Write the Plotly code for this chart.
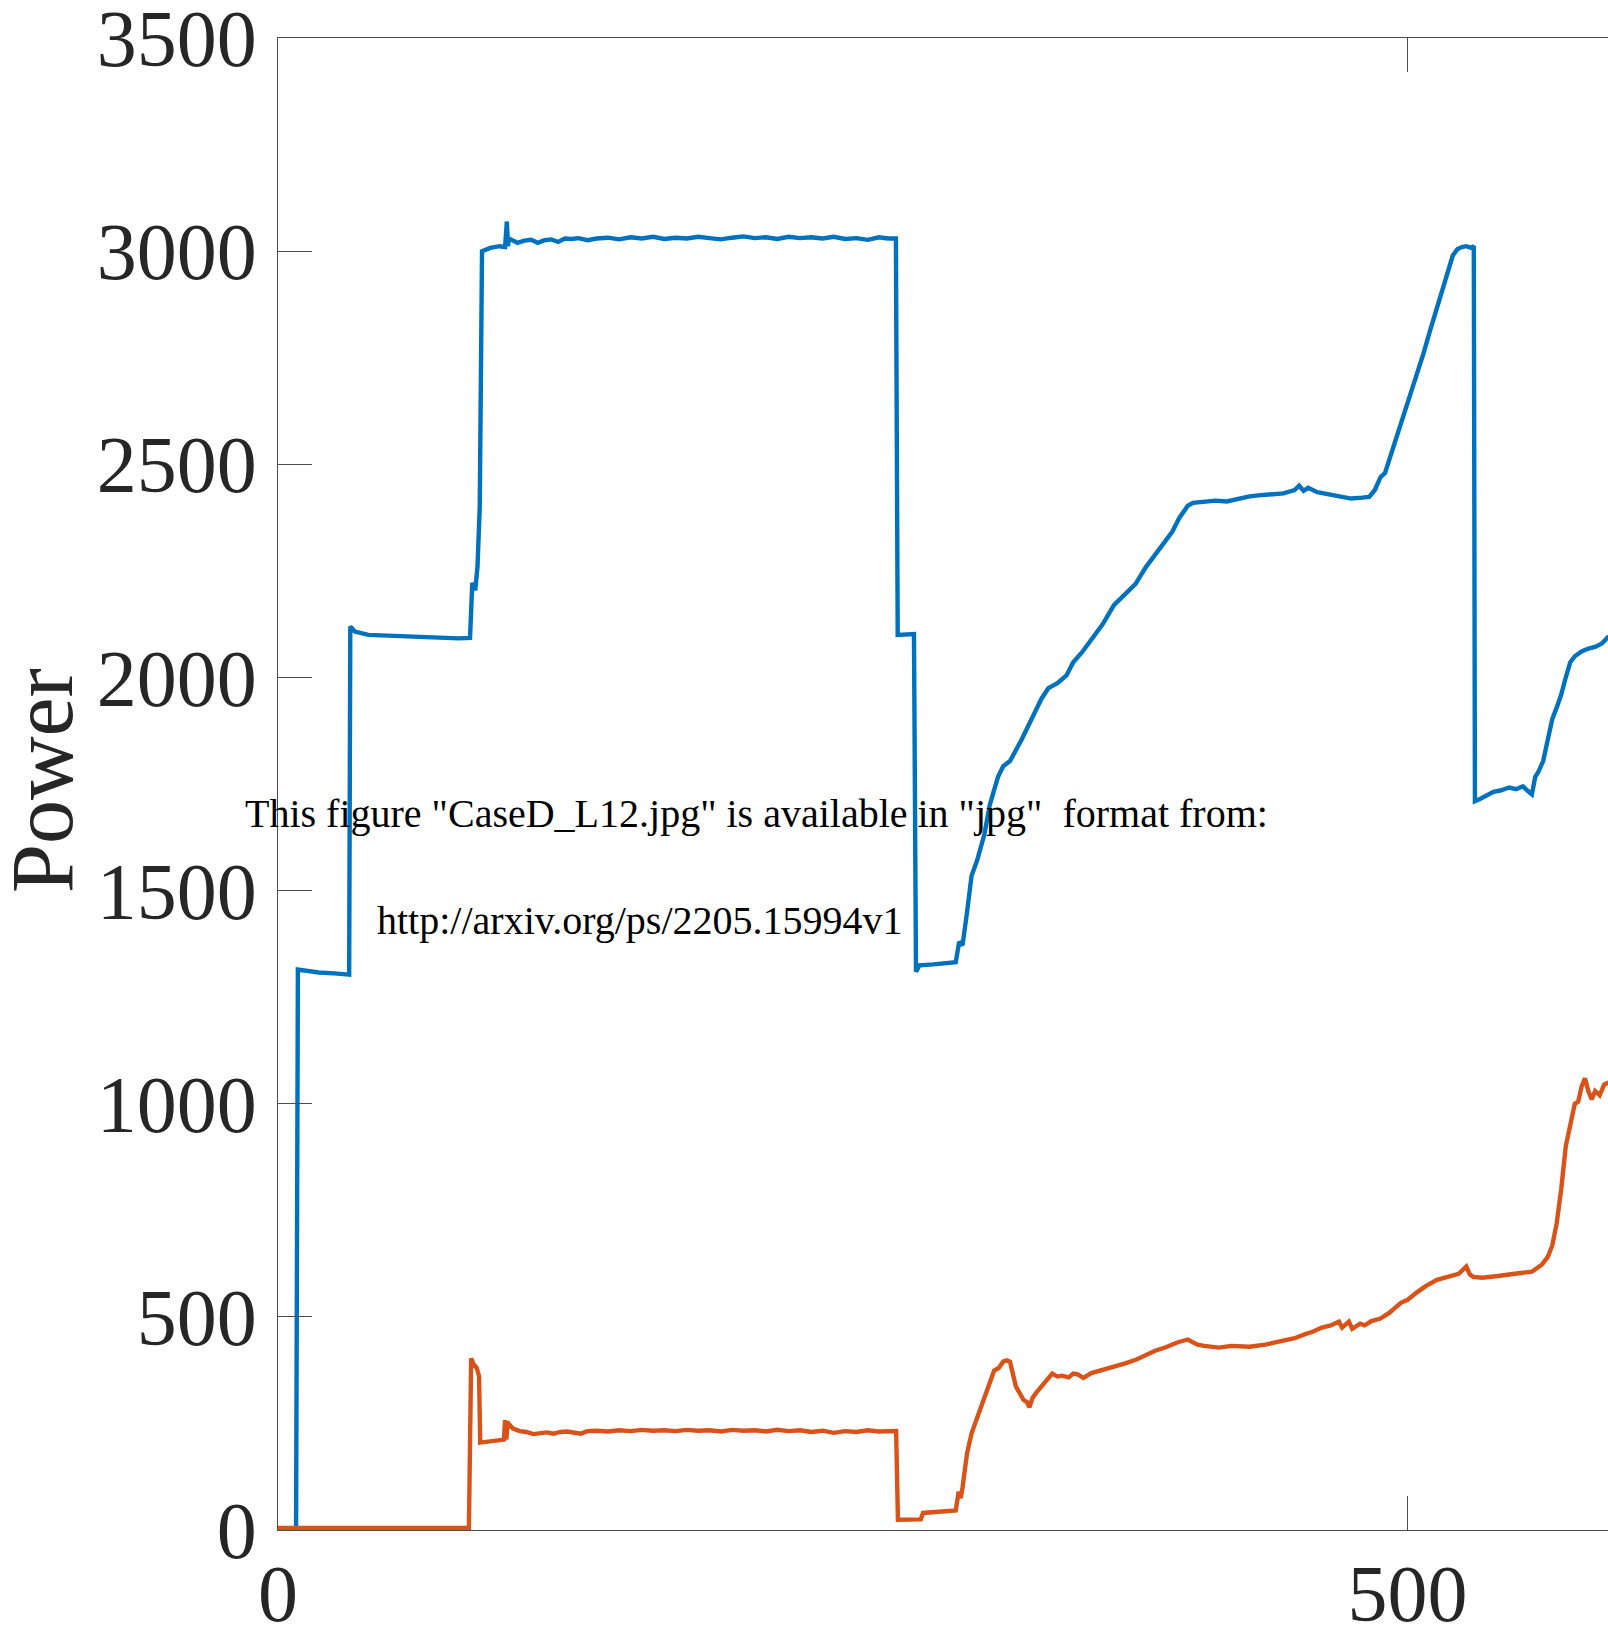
import plotly.graph_objects as go

# ---------------- data ----------------
blue_x = [0, 8, 8.8, 12, 18, 25, 31.5, 32, 34, 40,
          50, 60, 70, 80, 85, 86, 87.3, 88.3, 89.3, 90.3,
          94, 98, 100.5, 101.3, 101.8, 102.3, 103, 106, 109, 112,
          115, 118, 121, 124, 127, 130, 133, 137, 141, 146,
          151, 156, 161, 166, 171, 176, 181, 186, 191, 196,
          201, 206, 211, 216, 221, 226, 231, 236, 241, 246,
          251, 256, 261, 266, 270, 273.5, 274.3, 278, 281.5, 282.4,
          284, 290, 295, 300, 301.5, 303, 305, 307, 309.5, 312.7,
          315, 318.7, 321, 324, 329, 333.5, 338, 341, 345, 349,
          352, 356, 361, 365, 370, 375, 379.6, 384, 389, 392,
          395.8, 399, 402.7, 405, 410, 415, 420, 425, 430, 435,
          440, 445, 450, 452, 454, 456, 460, 465, 470, 475,
          480, 483, 485.5, 488, 490, 492.5, 495, 498, 501, 504,
          507, 510, 513, 516, 518, 520, 522, 524, 526, 528,
          529.3, 529.8, 532, 535, 538, 541, 545, 548, 551, 553,
          555, 556.5, 558, 560, 562, 564, 566, 568, 570, 572,
          574, 577, 580, 583, 586, 589]
blue_y = [0, 0, 1315, 1312, 1308, 1306, 1303, 2120, 2108, 2100,
          2098, 2095, 2094, 2092, 2093, 2222, 2205, 2260, 2400, 3000,
          3008, 3012, 3010, 3070, 3012, 3030, 3028, 3020, 3025, 3027,
          3020, 3026, 3028, 3022, 3030, 3029, 3031, 3026, 3030, 3032,
          3028, 3033, 3030, 3034, 3029, 3032, 3030, 3034, 3031, 3028,
          3032, 3035, 3031, 3033, 3029, 3034, 3031, 3033, 3030, 3034,
          3029, 3031, 3027, 3033, 3030, 3030, 2100, 2100, 2102, 1310,
          1325, 1327, 1330, 1332, 1380, 1372, 1450, 1535, 1572, 1633,
          1700, 1767, 1792, 1804, 1853, 1902, 1951, 1975, 1987, 2005,
          2036, 2060, 2097, 2125, 2170, 2195, 2220, 2258, 2293, 2318,
          2342, 2375, 2403, 2410, 2412, 2415, 2413, 2420, 2425, 2428,
          2430, 2432, 2440, 2450, 2438, 2445, 2435, 2430, 2425, 2420,
          2422, 2424, 2440, 2470, 2480, 2520, 2560, 2610, 2660, 2710,
          2760, 2815, 2870, 2920, 2960, 2990, 3005, 3010, 3012, 3008,
          3012, 1710, 1715, 1725, 1732, 1735, 1742, 1738, 1745, 1735,
          1726, 1767, 1780, 1804, 1850, 1902, 1930, 1960, 2000, 2036,
          2050, 2061, 2068, 2072, 2080, 2097]

orange_x = [0, 10, 30, 60, 84.5, 85.5, 86.5, 88, 89, 89.5,
            92, 96, 100, 100.5, 101.1, 101.6, 102.2, 102.8, 104, 107,
            110, 113, 116, 119, 122, 125, 128, 131, 134, 137,
            141, 146, 151, 156, 161, 166, 171, 176, 181, 186,
            191, 196, 201, 206, 211, 216, 221, 226, 231, 236,
            241, 246, 251, 256, 261, 266, 270, 273.6, 274.4, 280,
            284.5, 285.5, 290, 295, 300, 301.3, 302.2, 303, 305, 307,
            309.5, 312.7, 315, 317, 319, 321, 322.5, 324, 326.6, 330,
            331.5, 332.6, 334, 336, 340, 342.7, 345, 347, 350, 352,
            354, 356.5, 360, 365.8, 370, 375, 380, 384, 388, 393.5,
            398, 402.7, 405, 407, 410, 416.5, 422, 430, 437, 444,
            450, 455, 458, 462, 466, 469.6, 471, 472.5, 474, 475.5,
            477, 479, 481, 484, 488, 492, 497, 500, 504, 508,
            513, 518, 522.6, 526, 527.5, 529, 533, 540, 545.7, 550,
            555, 559.5, 562, 564, 566, 568, 570, 572, 574, 575.5,
            577, 578.5, 580, 581.5, 583, 585, 587, 589]
orange_y = [5, 5, 5, 5, 5, 403, 390, 380, 360, 205,
            207, 210, 212, 258, 212, 255, 240, 245, 238, 232,
            230, 225, 228, 229, 226, 230, 231, 228, 226, 232,
            233, 231, 234, 232, 235, 233, 234, 232, 235, 233,
            234, 231, 235, 233, 234, 231, 235, 232, 234, 230,
            233, 228, 232, 230, 234, 231, 232, 232, 24, 24,
            25, 40, 42, 44, 46, 90, 75, 100, 180, 227,
            264, 313, 345, 374, 380, 395, 398, 395, 337, 305,
            300, 288, 310, 325, 350, 367, 360, 362, 358, 367,
            365, 357, 368, 376, 383, 391, 400, 411, 420, 430,
            440, 447, 440, 435, 432, 428, 432, 430, 435, 442,
            450, 460, 465, 475, 480, 489, 475, 482, 489, 472,
            478, 484, 480, 490, 496, 510, 533, 540, 557, 572,
            587, 595, 601, 618, 600, 594, 592, 596, 601, 603,
            606, 623, 640, 667, 720, 800, 900, 950, 1000, 1005,
            1040, 1060, 1030, 1010, 1030, 1020, 1045, 1050]

y_ticks = [0, 500, 1000, 1500, 2000, 2500, 3000, 3500]
x_ticks = [0, 500, 1000]
y_title = "Power"
note_line1 = 'This figure "CaseD_L12.jpg" is available in "jpg"&nbsp;&nbsp;format from:'
note_line2 = "http://arxiv.org/ps/2205.15994v1"

assert len(blue_x) == len(blue_y)
assert len(orange_x) == len(orange_y)

# ---------------- figure ----------------
SERIF = "Liberation Serif, Times New Roman, serif"
AX = "#4d4d4d"

fig = go.Figure()
fig.add_trace(go.Scatter(x=blue_x, y=blue_y, mode="lines",
                         line=dict(color="#0072BD", width=4.4), showlegend=False))
fig.add_trace(go.Scatter(x=orange_x, y=orange_y, mode="lines",
                         line=dict(color="#D95319", width=4.4), showlegend=False))

fig.update_layout(
    width=1608, height=1634,
    margin=dict(l=278, r=0, t=38, b=104, pad=0, autoexpand=False),
    paper_bgcolor="white", plot_bgcolor="white",
    font=dict(family=SERIF, color="#262626"),
)
fig.update_xaxes(
    range=[0, 588.7], tickmode="array", tickvals=x_ticks,
    ticktext=[str(v) for v in x_ticks],
    ticks="inside", ticklen=34, tickwidth=1.3, tickcolor=AX,
    showline=True, linecolor=AX, linewidth=1.3, mirror="ticks",
    showgrid=False, zeroline=False, automargin=False,
    tickfont=dict(family=SERIF, size=80, color="#262626"),
    ticklabelstandoff=-6, ticklabeloverflow="allow",
)
fig.update_yaxes(
    range=[0, 3500.5], tickmode="array", tickvals=y_ticks,
    ticktext=[str(v) for v in y_ticks],
    ticks="inside", ticklen=34, tickwidth=1.3, tickcolor=AX,
    showline=True, linecolor=AX, linewidth=1.3, mirror=False,
    showgrid=False, zeroline=False, automargin=False,
    tickfont=dict(family=SERIF, size=80, color="#262626"),
    ticklabelstandoff=4, ticklabeloverflow="allow",
)

fig.add_annotation(text=y_title, xref="paper", yref="paper",
                   x=0, y=0.502, xshift=-236, xanchor="center", yanchor="middle",
                   textangle=-90, showarrow=False,
                   font=dict(family=SERIF, size=88, color="#262626"))
fig.add_annotation(text=note_line1, xref="paper", yref="paper",
                   x=-0.0263, y=0.4804, xanchor="left", yanchor="middle",
                   showarrow=False, font=dict(family=SERIF, size=40, color="black"))
fig.add_annotation(text=note_line2, xref="paper", yref="paper",
                   x=0.0729, y=0.4087, xanchor="left", yanchor="middle",
                   showarrow=False, font=dict(family=SERIF, size=40, color="black"))

fig.write_html("out.html")
